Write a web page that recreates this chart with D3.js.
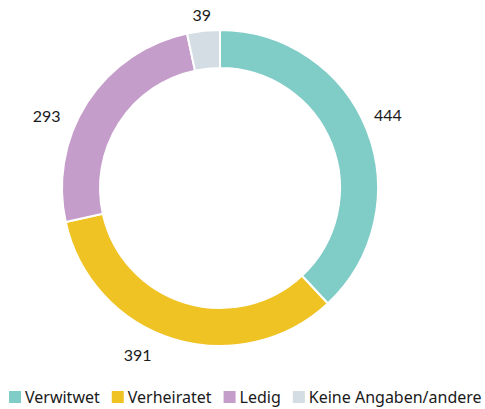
<!DOCTYPE html>
<html>
<head>
<meta charset="utf-8">
<style>
  body { margin: 0; background: #fff; }
  text { font-family: "Noto Sans", Lato, sans-serif; fill: #1a1a1a; }
</style>
</head>
<body>
<script src="https://cdn.jsdelivr.net/npm/d3@7"></script>
<script>
// data
var categories = ["Verwitwet", "Verheiratet", "Ledig", "Keine Angaben/andere"];
var values = [444, 391, 293, 39];
var colors = ["#80ccc7", "#f0c325", "#c59dca", "#d3dde3"];
// angle nudges (degrees) and distance from centre for the value labels
var labelShift = [-2, 9, -10, 0];
var labelDist = [183, 186, 188, 174];

var width = 485, height = 409;
var cx = 220, cy = 188;
var outerR = 158, innerR = 120;

var svg = d3.select("body").append("svg")
    .attr("width", width)
    .attr("height", height);

var pie = d3.pie().sort(null).value(function(d) { return d; });
var arcs = pie(values);

var arc = d3.arc().innerRadius(innerR).outerRadius(outerR);

var g = svg.append("g")
    .attr("transform", "translate(" + cx + "," + cy + ")");

g.selectAll("path.slice")
    .data(arcs)
  .enter().append("path")
    .attr("class", "slice")
    .attr("d", arc)
    .style("fill", function(d, i) { return colors[i]; })
    .style("stroke", "#fff")
    .style("stroke-width", 2);

function labelAngle(d, i) {
  return (d.startAngle + d.endAngle) / 2 + labelShift[i] * Math.PI / 180;
}

// value labels
g.selectAll("text.val")
    .data(arcs)
  .enter().append("text")
    .attr("class", "val")
    .attr("text-anchor", "middle")
    .attr("dominant-baseline", "central")
    .style("font-family", "Lato, sans-serif")
    .style("font-size", "16px")
    .attr("x", function(d, i) { return Math.sin(labelAngle(d, i)) * labelDist[i]; })
    .attr("y", function(d, i) { return -Math.cos(labelAngle(d, i)) * labelDist[i]; })
    .text(function(d) { return d.data; });

// legend
var legend = svg.append("g").attr("transform", "translate(9,397)");
var xPos = 0;
categories.forEach(function(c, i) {
  var item = legend.append("g").attr("transform", "translate(" + xPos + ",0)");
  item.append("rect")
      .attr("x", 0).attr("y", -6)
      .attr("width", 12).attr("height", 12)
      .style("fill", colors[i]);
  var t = item.append("text")
      .attr("x", 16)
      .attr("y", 0)
      .attr("dominant-baseline", "central")
      .style("font-size", "16px")
      .text(c);
  xPos += 16 + t.node().getComputedTextLength() + 12;
});
</script>
</body>
</html>
